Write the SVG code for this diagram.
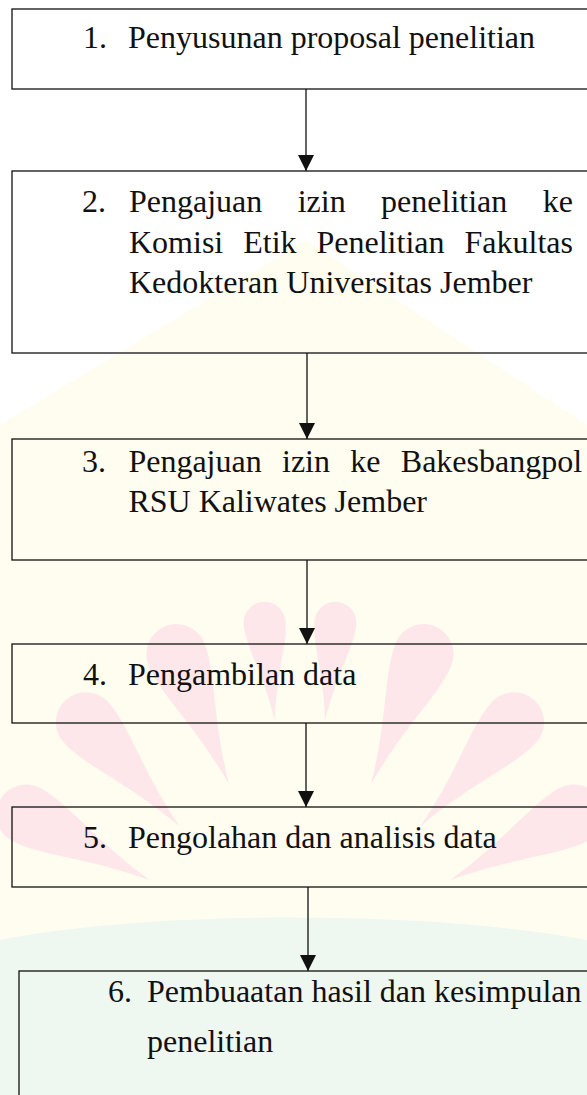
<svg xmlns="http://www.w3.org/2000/svg" xmlns:xlink="http://www.w3.org/1999/xlink" width="587" height="1095" viewBox="0 0 587 1095">
  <style>
    .box { fill: none; stroke: #111; stroke-width: 1.3; }
    .lbl { font-size: 32px; fill: #111; }
    .conn { stroke: #111; stroke-width: 1.3; fill: none; }
    .flame { fill: #fde7eb; }
  </style>
  <defs>
    <marker id="arrow" viewBox="0 0 16 16" refX="16" refY="8" markerWidth="16" markerHeight="16" markerUnits="userSpaceOnUse" orient="auto">
      <path d="M0,0 L16,8 L0,16 z" fill="#111"/>
    </marker>
    <path id="flame" d="M-30,30 A30,30 0 0 1 30,30 C30,62 10,100 0,170 C-10,100 -30,62 -30,30 z"/>
  </defs>

  <g id="watermark">
    <rect x="0" y="0" width="587" height="1095" fill="#ffffff"/>
    <path d="M306,240 L587,425 L587,1095 L0,1095 L0,425 z" fill="#fffdf0"/>
    <path d="M0,940 C150,910 430,910 587,940 L587,1095 L0,1095 z" fill="#eff7f1"/>
    <g class="flame">
      <use xlink:href="#flame" transform="rotate(-62 300 960) translate(300 620)"/>
      <use xlink:href="#flame" transform="rotate(-42 300 960) translate(300 610)"/>
      <use xlink:href="#flame" transform="rotate(-22 300 960) translate(300 600)"/>
      <use xlink:href="#flame" transform="rotate(-6 300 960) translate(300 600) scale(0.7)"/>
      <use xlink:href="#flame" transform="rotate(6 300 960) translate(300 600) scale(0.7)"/>
      <use xlink:href="#flame" transform="rotate(22 300 960) translate(300 600)"/>
      <use xlink:href="#flame" transform="rotate(42 300 960) translate(300 610)"/>
      <use xlink:href="#flame" transform="rotate(62 300 960) translate(300 620)"/>
    </g>
  </g>

  <g id="connectors">
    <line class="conn" x1="306" y1="89" x2="306" y2="171" marker-end="url(#arrow)"/>
    <line class="conn" x1="307" y1="353" x2="307" y2="439" marker-end="url(#arrow)"/>
    <line class="conn" x1="307" y1="560" x2="307" y2="644" marker-end="url(#arrow)"/>
    <line class="conn" x1="306" y1="723" x2="306" y2="807" marker-end="url(#arrow)"/>
    <line class="conn" x1="308" y1="887" x2="308" y2="971" marker-end="url(#arrow)"/>
  </g>

  <g id="nodes" font-family="Liberation Serif, Times New Roman, serif">
  <g id="node1">
    <rect class="box" x="12" y="9" width="600" height="80"/>
    <text class="lbl" x="83" y="48">1.</text>
    <text class="lbl" x="128" y="48">Penyusunan proposal penelitian</text>
  </g>

  <g id="node2">
    <rect class="box" x="12" y="171" width="600" height="182"/>
    <text class="lbl" x="82" y="212">2.</text>
    <text class="lbl" y="212"><tspan x="129">Pengajuan</tspan><tspan x="297.7">izin</tspan><tspan x="381.1">penelitian</tspan><tspan x="542.7">ke</tspan></text>
    <text class="lbl" y="252.5"><tspan x="129">Komisi</tspan><tspan x="243.2">Etik</tspan><tspan x="316.5">Penelitian</tspan><tspan x="464.5">Fakultas</tspan></text>
    <text class="lbl" x="129" y="293">Kedokteran Universitas Jember</text>
  </g>

  <g id="node3">
    <rect class="box" x="12" y="439" width="600" height="121"/>
    <text class="lbl" x="82" y="472">3.</text>
    <text class="lbl" y="472"><tspan x="128.4">Pengajuan</tspan><tspan x="282">izin</tspan><tspan x="350.3">ke</tspan><tspan x="400.8">Bakesbangpol</tspan></text>
    <text class="lbl" x="128.4" y="512">RSU Kaliwates Jember</text>
  </g>

  <g id="node4">
    <rect class="box" x="12" y="644" width="600" height="79"/>
    <text class="lbl" x="83" y="685">4.</text>
    <text class="lbl" x="128" y="685">Pengambilan data</text>
  </g>

  <g id="node5">
    <rect class="box" x="12" y="807" width="600" height="80"/>
    <text class="lbl" x="83" y="848">5.</text>
    <text class="lbl" x="128" y="848">Pengolahan dan analisis data</text>
  </g>

  <g id="node6">
    <rect class="box" x="19" y="971" width="600" height="150"/>
    <text class="lbl" x="108" y="1002">6.</text>
    <text class="lbl" x="147" y="1002">Pembuaatan hasil dan kesimpulan</text>
    <text class="lbl" x="147" y="1052">penelitian</text>
  </g>
  </g>
</svg>
